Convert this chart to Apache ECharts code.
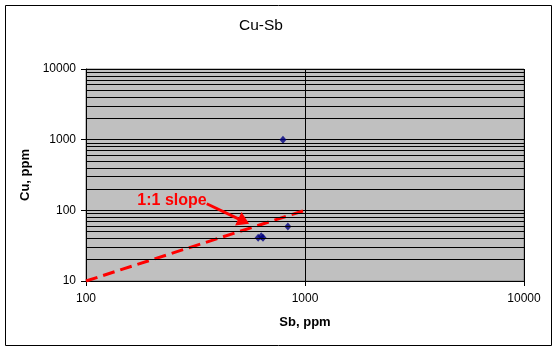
<!DOCTYPE html>
<html>
<head>
<meta charset="utf-8">
<script src="https://cdn.jsdelivr.net/npm/echarts@6/dist/echarts.min.js"></script>
<style>
html,body{margin:0;padding:0;background:#fff;}
#chart{width:558px;height:351px;}
</style>
</head>
<body>
<div id="chart"></div>
<script>
// Data
const sbValues = [793, 835, 611, 631, 643];
const cuValues = [1000, 59, 41, 43, 41];
const slopeLineX = [100, 1000];
const slopeLineY = [10, 100];
const arrowStart = [356, 124];
const arrowEnd = [525, 70];
const xTicks = [100, 1000, 10000];
const yTicks = [10, 100, 1000, 10000];
const yMinorGrid = [20, 30, 40, 50, 60, 70, 80, 90,
                    200, 300, 400, 500, 600, 700, 800, 900,
                    2000, 3000, 4000, 5000, 6000, 7000, 8000, 9000];
const titleText = 'Cu-Sb';
const xName = 'Sb, ppm';
const yName = 'Cu, ppm';
const annotationText = '1:1 slope';

const font = 'Liberation Sans, Arial, sans-serif';
const chart = echarts.init(document.getElementById('chart'), null, {renderer: 'canvas'});

const option = {
  animation: false,
  backgroundColor: '#ffffff',
  title: {
    text: titleText,
    left: 261, top: 18, textAlign: 'center', padding: 0,
    textStyle: {fontFamily: font, fontSize: 15.5, fontWeight: 'normal', color: '#000'}
  },
  grid: {left: 86, top: 69, width: 438, height: 212, show: true,
         backgroundColor: '#c0c0c0', borderColor: '#808080', borderWidth: 1},
  xAxis: {
    type: 'log', logBase: 10, min: xTicks[0], max: xTicks[xTicks.length - 1],
    name: xName, nameLocation: 'middle', nameGap: 35,
    nameTextStyle: {fontFamily: font, fontSize: 13, fontWeight: 'bold', color: '#000'},
    axisLine: {show: true, lineStyle: {color: '#000', width: 1}},
    axisTick: {show: true, length: 5, lineStyle: {color: '#000'}},
    axisLabel: {fontFamily: font, fontSize: 12, color: '#000', margin: 12,
                formatter: v => String(Math.round(v))},
    splitLine: {show: true, lineStyle: {color: '#000', width: 1}}
  },
  yAxis: {
    type: 'log', logBase: 10, min: yTicks[0], max: yTicks[yTicks.length - 1],
    name: yName, nameLocation: 'middle', nameGap: 50, nameRotate: 90,
    nameTextStyle: {fontFamily: font, fontSize: 13, fontWeight: 'bold', color: '#000'},
    axisLine: {show: true, lineStyle: {color: '#000', width: 1}},
    axisTick: {show: true, length: 5, lineStyle: {color: '#000'}},
    axisLabel: {fontFamily: font, fontSize: 12, color: '#000', margin: 10,
                formatter: v => String(Math.round(v))},
    splitLine: {show: true, lineStyle: {color: '#000', width: 1}}
  },
  series: [
    {
      type: 'line', data: [], z: 1, silent: true,
      markLine: {
        silent: true, symbol: ['none', 'none'], animation: false,
        label: {show: false},
        lineStyle: {color: '#000', width: 1, type: 'solid'},
        data: yMinorGrid.map(v => ({yAxis: v}))
      }
    },
    {
      type: 'line', z: 3, silent: true, symbol: 'none',
      data: slopeLineX.map((x, i) => [x, slopeLineY[i]]),
      lineStyle: {color: '#ff0000', width: 3, type: [12, 6]}
    },
    {
      type: 'scatter', z: 4,
      data: sbValues.map((x, i) => [x, cuValues[i]]),
      symbol: 'diamond', symbolSize: [7, 8],
      itemStyle: {color: '#000080'}
    },
    {
      type: 'line', data: [], z: 5, silent: true,
      markLine: {
        silent: true, symbol: ['none', 'triangle'], symbolSize: [15, 12], animation: false,
        label: {show: false},
        lineStyle: {color: '#ff0000', width: 3, type: 'solid'},
        data: [[{coord: arrowStart}, {coord: arrowEnd}]]
      }
    }
  ],
  graphic: [
    {type: 'rect', shape: {x: 5.5, y: 5.5, width: 546, height: 340},
     style: {fill: 'none', stroke: '#000', lineWidth: 1}, z: 100, silent: true},
    {type: 'text', x: 172, y: 201, z: 100, silent: true,
     style: {text: annotationText, fill: '#ff0000', font: 'bold 16px ' + font,
             textAlign: 'center', textVerticalAlign: 'middle'}}
  ]
};
chart.setOption(option);
</script>
</body>
</html>
